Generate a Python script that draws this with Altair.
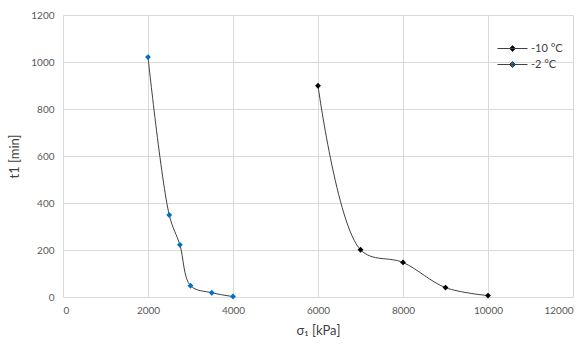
import altair as alt
import pandas as pd

series_names = ["-10 °C", "-2 °C"]
x_m10 = [6000, 7000, 8000, 9000, 10000]
y_m10 = [899, 201, 147, 40, 6]
x_m2 = [2000, 2500, 2750, 3000, 3500, 4000]
y_m2 = [1021, 349, 222, 48, 18, 2]
colors = ["#000000", "#0070C0"]

rows = []
for i, (x, y) in enumerate(zip(x_m10, y_m10)):
    rows.append({"series": series_names[0], "sigma": x, "t1": y, "order": i})
for i, (x, y) in enumerate(zip(x_m2, y_m2)):
    rows.append({"series": series_names[1], "sigma": x, "t1": y, "order": i})
df = pd.DataFrame(rows)

FONT = "Lato"
xs = alt.Scale(domain=[0, 12000], nice=False)
ys = alt.Scale(domain=[0, 1200], nice=False)

xax = alt.Axis(values=list(range(0, 12001, 2000)), format="d", title="σ₁ [kPa]", ticks=False,
               domain=False, labelPadding=8, titlePadding=9,
               grid=True, gridColor="#d9d9d9", labelColor="#595959",
               labelFont=FONT, labelFontSize=10, titleFont=FONT, titleFontSize=13,
               titleFontWeight="normal", titleColor="#404040")
yax = alt.Axis(values=list(range(0, 1201, 200)), format="d", title="t1 [min]", ticks=False,
               domain=False, labelPadding=9, titlePadding=9,
               grid=True, gridColor="#d9d9d9", labelColor="#595959",
               labelFont=FONT, labelFontSize=10, titleFont=FONT, titleFontSize=13,
               titleFontWeight="normal", titleColor="#404040")

base = alt.Chart(df)

lines = base.mark_line(interpolate="catmull-rom", color="#404040", strokeWidth=1).encode(
    x=alt.X("sigma:Q", scale=xs, axis=xax),
    y=alt.Y("t1:Q", scale=ys, axis=yax),
    detail="series:N",
    order="order:Q",
)

points = base.mark_point(filled=True, shape="diamond", size=34, opacity=1).encode(
    x=alt.X("sigma:Q", scale=xs),
    y=alt.Y("t1:Q", scale=ys),
    color=alt.Color("series:N",
                    scale=alt.Scale(domain=series_names, range=colors),
                    legend=alt.Legend(title=None, orient="none", legendX=439, legendY=23,
                                      symbolType="M-1.5,0H1.5M0,-0.3L0.3,0L0,0.3L-0.3,0Z",
                                      symbolSize=400, symbolStrokeWidth=1,
                                      symbolStrokeColor="#404040",
                                      labelFont=FONT, labelFontSize=11,
                                      labelColor="#404040", rowPadding=-4,
                                      labelOffset=8)),
)

chart = alt.layer(lines, points).properties(
    width=510, height=282,
    autosize=alt.AutoSizeParams(type="none"),
    padding={"left": 63, "top": 15, "right": 13, "bottom": 47},
    background="white",
).configure_view(stroke=None)

chart.save("out.html", embed_options={"renderer": "svg", "actions": False})
